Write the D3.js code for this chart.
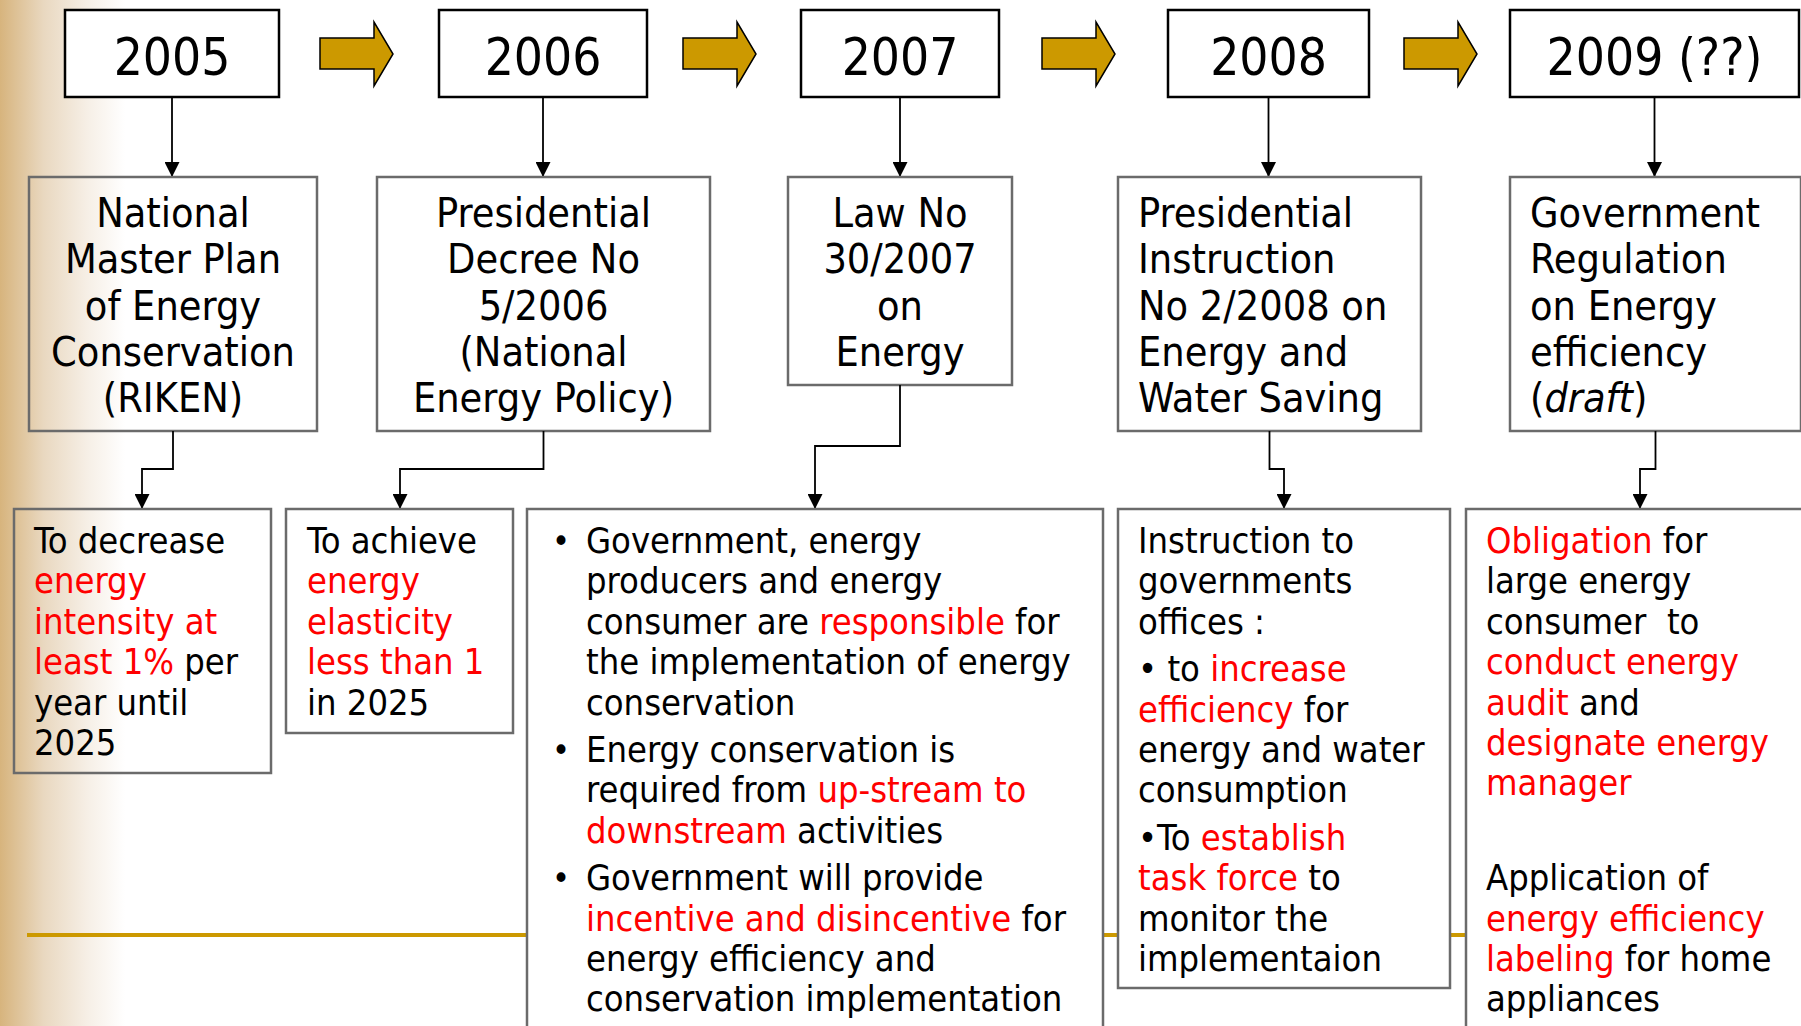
<!DOCTYPE html>
<html lang="en">
<head>
<meta charset="UTF-8">
<title>Energy conservation timeline</title>
<script src="https://d3js.org/d3.v7.min.js"></script>
<style>
  body { margin: 0; background: #fff; }
  svg text { font-family: "DejaVu Sans Condensed", "DejaVu Sans", sans-serif; white-space: pre; }
</style>
</head>
<body>
<svg id="chart"></svg>
<script>
// ---- content ----
var years = ["2005", "2006", "2007", "2008", "2009 (??)"];

// *red*  _italic_
var policies = [
  ["National", "Master Plan", "of Energy", "Conservation", "(RIKEN)"],
  ["Presidential", "Decree No", "5/2006", "(National", "Energy Policy)"],
  ["Law No", "30/2007", "on", "Energy"],
  ["Presidential", "Instruction", "No 2/2008 on", "Energy and", "Water Saving"],
  ["Government", "Regulation", "on Energy", "efficiency", "(_draft_)"]
];

// each target is a list of paragraphs, each paragraph a list of lines
var targets = [
  [["To decrease", "*energy*", "*intensity at*", "*least 1%* per", "year until", "2025"]],
  [["To achieve", "*energy*", "*elasticity*", "*less than 1*", "in 2025"]],
  [["Government, energy", "producers and energy", "consumer are *responsible* for", "the implementation of energy", "conservation"],
   ["Energy conservation is", "required from *up-stream to*", "*downstream* activities"],
   ["Government will provide", "*incentive and disincentive* for", "energy efficiency and", "conservation implementation"]],
  [["Instruction to", "governments", "offices :"],
   ["• to *increase*", "*efficiency* for", "energy and water", "consumption"],
   ["•To *establish*", "*task force* to", "monitor the", "implementaion"]],
  [["*Obligation* for", "large energy", "consumer  to", "*conduct energy*", "*audit* and", "*designate energy*", "*manager*"],
   [""],
   ["Application of", "*energy efficiency*", "*labeling* for home", "appliances"]]
];
var bulleted = [false, false, true, false, false];

// ---- layout ----
var W = 1801, H = 1026;
var yearBoxX = [65, 439, 801, 1168, 1510], yearBoxW = [214, 208, 198, 201, 289];
var yearBoxY = 10, yearBoxH = 87;
var arrowX = [320, 683, 1042, 1404];
var midBoxX = [29, 377, 788, 1118, 1510], midBoxW = [288, 333, 224, 303, 291];
var midBoxY = 177, midBoxH = [254, 254, 208, 254, 254];
var midAlign = ["middle", "middle", "middle", "start", "start"];
var botBoxX = [14, 286, 527, 1118, 1466], botBoxW = [257, 227, 576, 332, 345];
var botBoxY = 509, botBoxH = [264, 224, 540, 479, 540];
var botTextX = [34, 307, 586, 1138, 1486];
var elbowY = [469, 469, 446, 469, 469];
var botArrowX = [142, 400, 815, 1284, 1640];

var gold = "#cc9900", red = "#ff0000";
var midLine = 46.3, botLine = 40.4, paraGap = 7;

var svg = d3.select("#chart").attr("width", W).attr("height", H);

var defs = svg.append("defs");
var grad = defs.append("linearGradient").attr("id", "side")
    .attr("gradientUnits", "userSpaceOnUse")
    .attr("x1", 0).attr("x2", 125).attr("y1", 0).attr("y2", 0);
grad.append("stop").attr("offset", 0).attr("stop-color", "#d7b47d");
grad.append("stop").attr("offset", 0.35).attr("stop-color", "#e9d8c0");
grad.append("stop").attr("offset", 0.7).attr("stop-color", "#f6efe6");
grad.append("stop").attr("offset", 1).attr("stop-color", "#ffffff");

defs.append("marker").attr("id", "head")
    .attr("viewBox", "0 0 10 10").attr("refX", 10).attr("refY", 5)
    .attr("markerUnits", "userSpaceOnUse")
    .attr("markerWidth", 15).attr("markerHeight", 15)
    .attr("orient", "auto")
  .append("path").attr("d", "M0,0L10,5L0,10Z").attr("fill", "#000");

svg.append("rect").attr("width", W).attr("height", H).attr("fill", "url(#side)");

// gold rule behind the lower boxes
svg.append("line")
    .attr("x1", 27).attr("x2", W).attr("y1", 935).attr("y2", 935)
    .attr("stroke", gold).attr("stroke-width", 4);

// write a line with *red* and _italic_ runs
function richLine(sel, str) {
  str.split(/(\*[^*]+\*|_[^_]+_)/).filter(function(s) { return s.length; }).forEach(function(s) {
    var t = sel.append("tspan");
    if (s[0] == "*") t.attr("fill", red).text(s.slice(1, -1));
    else if (s[0] == "_") t.attr("font-style", "italic").text(s.slice(1, -1));
    else t.text(s);
  });
}

// year boxes
var yg = svg.selectAll(".year").data(years).enter().append("g").attr("class", "year");
yg.append("rect")
    .attr("x", function(d, i) { return yearBoxX[i]; })
    .attr("y", yearBoxY)
    .attr("width", function(d, i) { return yearBoxW[i]; })
    .attr("height", yearBoxH)
    .attr("fill", "#fff").attr("stroke", "#000").attr("stroke-width", 2.5);
yg.append("text")
    .attr("x", function(d, i) { return yearBoxX[i] + yearBoxW[i] / 2; })
    .attr("y", 75)
    .attr("text-anchor", "middle")
    .attr("font-size", 51)
    .text(function(d) { return d; });

// block arrows between years
svg.selectAll(".step").data(arrowX).enter().append("path")
    .attr("class", "step")
    .attr("d", function(x) {
      return "M" + x + ",38H" + (x + 54) + "V22L" + (x + 73) + ",54L" + (x + 54) + ",86V69H" + x + "Z";
    })
    .attr("fill", gold).attr("stroke", "#000").attr("stroke-width", 1.5);

// year -> policy connectors
svg.selectAll(".down").data(years).enter().append("path")
    .attr("class", "down")
    .attr("d", function(d, i) {
      var cx = yearBoxX[i] + yearBoxW[i] / 2;
      return "M" + cx + "," + (yearBoxY + yearBoxH) + "V" + midBoxY;
    })
    .attr("fill", "none").attr("stroke", "#000").attr("stroke-width", 1.8)
    .attr("marker-end", "url(#head)");

// policy boxes
var mg = svg.selectAll(".policy").data(policies).enter().append("g").attr("class", "policy");
mg.append("rect")
    .attr("x", function(d, i) { return midBoxX[i]; })
    .attr("y", midBoxY)
    .attr("width", function(d, i) { return midBoxW[i]; })
    .attr("height", function(d, i) { return midBoxH[i]; })
    .attr("fill", "none").attr("stroke", "#6b6b6b").attr("stroke-width", 2.5);
mg.each(function(lines, i) {
  var x = midAlign[i] == "middle" ? midBoxX[i] + midBoxW[i] / 2 : midBoxX[i] + 20;
  var g = d3.select(this);
  lines.forEach(function(l, k) {
    var t = g.append("text")
        .attr("x", x).attr("y", 227 + k * midLine)
        .attr("text-anchor", midAlign[i])
        .attr("font-size", 41);
    richLine(t, l);
  });
});

// policy -> target connectors
svg.selectAll(".elbow").data(policies).enter().append("path")
    .attr("class", "elbow")
    .attr("d", function(d, i) {
      var cx = midBoxX[i] + midBoxW[i] / 2;
      return "M" + cx + "," + (midBoxY + midBoxH[i]) + "V" + elbowY[i] + "H" + botArrowX[i] + "V" + botBoxY;
    })
    .attr("fill", "none").attr("stroke", "#000").attr("stroke-width", 1.8)
    .attr("marker-end", "url(#head)");

// target boxes
var bg = svg.selectAll(".target").data(targets).enter().append("g").attr("class", "target");
bg.append("rect")
    .attr("x", function(d, i) { return botBoxX[i]; })
    .attr("y", botBoxY)
    .attr("width", function(d, i) { return botBoxW[i]; })
    .attr("height", function(d, i) { return botBoxH[i]; })
    .attr("fill", function(d, i) { return i == 0 ? "none" : "#fff"; })
    .attr("stroke", "#6b6b6b").attr("stroke-width", 2.5);
bg.each(function(paras, i) {
  var g = d3.select(this), n = 0;
  paras.forEach(function(p, pi) {
    p.forEach(function(l, k) {
      var y = 553 + n * botLine + pi * paraGap;
      if (bulleted[i] && k == 0) {
        g.append("text").attr("x", botTextX[i] - 34).attr("y", y)
            .attr("font-size", 34).text("•");
      }
      var t = g.append("text").attr("x", botTextX[i]).attr("y", y).attr("font-size", 36);
      richLine(t, l);
      n++;
    });
  });
});
</script>
</body>
</html>
